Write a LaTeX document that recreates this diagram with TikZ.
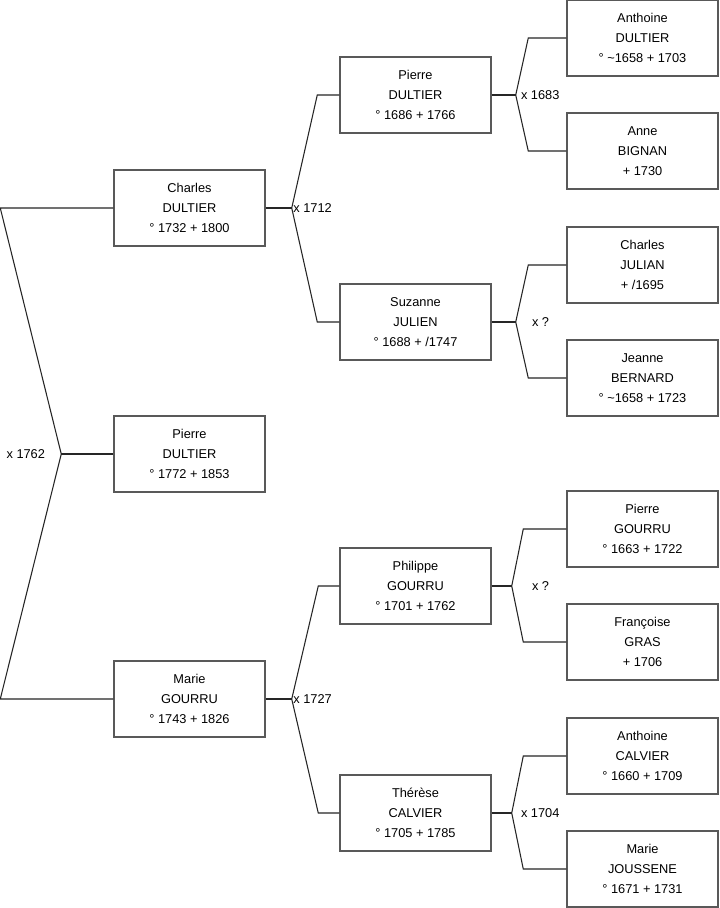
\documentclass[tikz,border=0pt]{standalone}
\usepackage{fontspec}
\setmainfont{Liberation Sans}
\usetikzlibrary{positioning, calc}
\definecolor{BoxGray}{rgb}{0.35, 0.35, 0.35}
\definecolor{LinkGray}{rgb}{0.15, 0.15, 0.15}

\begin{document}
\begin{tikzpicture}[
    x=0.75pt, y=-0.75pt,
    font=\fontsize{9.6}{15}\selectfont,
    person/.style={draw=BoxGray, line width=1.1pt, fill=white, align=center,
        minimum width=113.25pt, minimum height=57pt, inner sep=0pt},
    link/.style={draw=LinkGray, line width=0.8pt},
    union/.style={inner sep=0pt, text=black},
]
\fill[white] (0,0) rectangle (719,908);
\useasboundingbox (0,0) rectangle (719,908);

% ============ generation 1 ============
\node[person] (charles) at (189.5,208) {Charles\\DULTIER\\° 1732 + 1800};
\node[person] (pierre)  at (189.5,454) {Pierre\\DULTIER\\° 1772 + 1853};
\node[person] (marie)   at (189.5,699) {Marie\\GOURRU\\° 1743 + 1826};

% ============ generation 2 ============
\node[person] (pierreD)  at (415.5,95)  {Pierre\\DULTIER\\° 1686 + 1766};
\node[person] (suzanne)  at (415.5,322) {Suzanne\\JULIEN\\° 1688 + /1747};
\node[person] (philippe) at (415.5,586) {Philippe\\GOURRU\\° 1701 + 1762};
\node[person] (therese)  at (415.5,813) {Thérèse\\CALVIER\\° 1705 + 1785};

% ============ generation 3 ============
\node[person] (anthoineD) at (642.5,38)  {Anthoine\\DULTIER\\° \textasciitilde1658 + 1703};
\node[person] (anne)      at (642.5,151) {Anne\\BIGNAN\\+ 1730};
\node[person] (charlesJ)  at (642.5,265) {Charles\\JULIAN\\+ /1695};
\node[person] (jeanne)    at (642.5,378) {Jeanne\\BERNARD\\° \textasciitilde1658 + 1723};
\node[person] (pierreG)   at (642.5,529) {Pierre\\GOURRU\\° 1663 + 1722};
\node[person] (francoise) at (642.5,642) {Françoise\\GRAS\\+ 1706};
\node[person] (anthoineC) at (642.5,756) {Anthoine\\CALVIER\\° 1660 + 1709};
\node[person] (marieJ)    at (642.5,869) {Marie\\JOUSSENE\\° 1671 + 1731};

% ============ unions ============
\draw[link] (pierre.west) -- ++(-52,0) coordinate (k-pierre);
\draw[link] (charles.west) -- ++(-113,0) -- (k-pierre)
    -- ($(marie.west)+(-113,0)$) -- (marie.west);
\node[union, left=12pt of k-pierre] (u-pierre) {x 1762};

\foreach \c/\f/\m/\a/\b in {charles/pierreD/suzanne/26/22, marie/philippe/therese/26/21,
    pierreD/anthoineD/anne/24/38, suzanne/charlesJ/jeanne/24/38,
    philippe/pierreG/francoise/20/43, therese/anthoineC/marieJ/20/43}
{
  \draw[link] (\c.east) -- ++(\a,0) coordinate (k-\c);
  \draw[link] (\f.west) -- ++(-\b,0) -- (k-\c)
      -- ($(\m.west)+(-\b,0)$) -- (\m.west);
}

\node[union, right=1pt of k-charles]   (u-charles)  {x 1712};
\node[union, right=1pt of k-marie]     (u-marie)    {x 1727};
\node[union, right=3.75pt of k-pierreD] (u-pierreD) {x 1683};
\node[union, right=12pt of k-suzanne]  (u-suzanne)  {x ?};
\node[union, right=15pt of k-philippe] (u-philippe) {x ?};
\node[union, right=6.75pt of k-therese] (u-therese) {x 1704};

\end{tikzpicture}
\end{document}
